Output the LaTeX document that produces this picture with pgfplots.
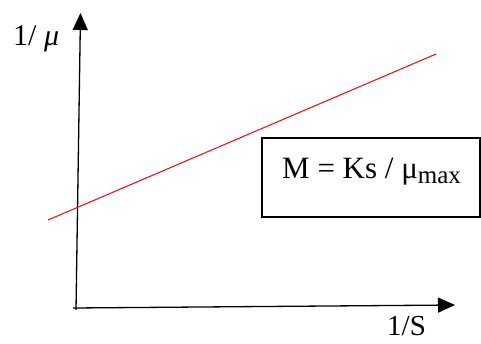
\documentclass[border=0pt]{standalone}
\usepackage{pgfplots}
\pgfplotsset{compat=1.18}
\usepackage{fontspec}
\setmainfont{Liberation Serif}
\usetikzlibrary{arrows.meta}
\begin{document}
\begin{tikzpicture}
\begin{axis}[width=481pt,height=343pt,scale only axis,xmin=0,xmax=481,ymin=0,ymax=343,hide axis,clip=false]
\addplot[draw=none] coordinates {(0,0)(481,343)};
% y axis
\addplot[black,line width=1.3pt,-{Triangle[length=17pt,width=15pt]}] coordinates {(76,33)(80.5,330)};
% x axis
\addplot[black,line width=1.3pt,-{Triangle[length=17pt,width=15pt]}] coordinates {(73,35)(455,38)};
% line
\addplot[red,line width=1pt] coordinates {(48,123)(436,289)};
% box
\addplot[black,line width=1.2pt] coordinates {(262,205)(480,205)(480,126)(262,126)(262,205)(480,205)};
\node[anchor=base west,inner sep=0,font=\fontsize{30}{36}\selectfont] at (axis cs:13,297) {1/ \textit{μ}};
\node[anchor=base west,inner sep=0,font=\fontsize{29}{35}\selectfont] at (axis cs:387,8) {1/S};
\node[anchor=base west,inner sep=0,font=\fontsize{31}{37}\selectfont] at (axis cs:282,165) {M = Ks / μ\raisebox{-6pt}{\fontsize{25}{30}\selectfont max}};
\end{axis}
\end{tikzpicture}
\end{document}
